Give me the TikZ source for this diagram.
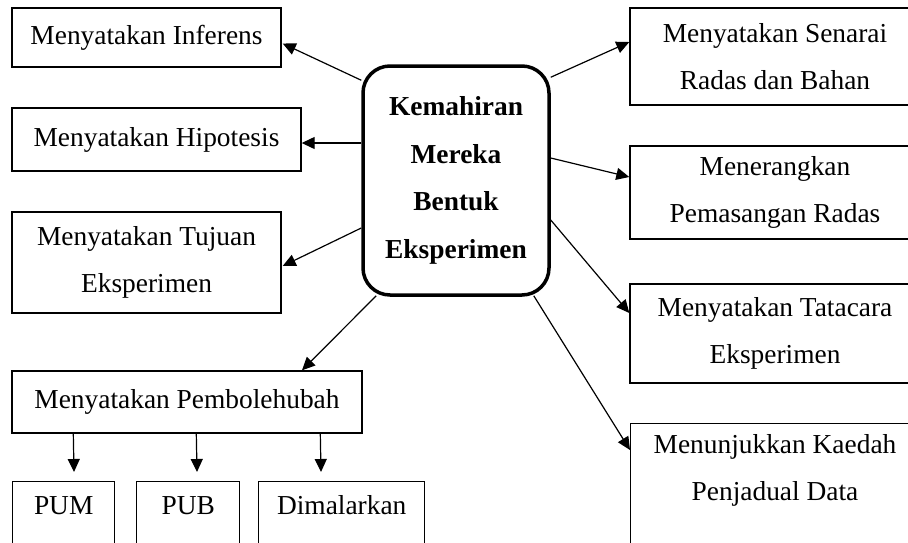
\documentclass[tikz,border=0pt]{standalone}
\usepackage{fontspec}
\setmainfont{Liberation Serif}
\usetikzlibrary{arrows.meta,calc}
\begin{document}
\begin{tikzpicture}[x=1pt,y=-1pt,
  box/.style={draw=black, line width=1.4pt, rectangle, inner sep=0pt, align=center, font=\fontsize{27.4}{47}\selectfont},
  hub/.style={draw=black, line width=3.5pt, rounded corners=27pt, align=center, font=\bfseries\fontsize{27.4}{47.7}\selectfont, minimum width=186pt, minimum height=229pt, inner sep=0pt},
  arr/.style={-{Triangle[length=13pt,width=12pt]}, line width=1.2pt},
  lbl/.style={align=center, inner sep=0pt, font=\fontsize{27.4}{47}\selectfont}]
\useasboundingbox (0,0) rectangle (908,542);
\clip (0,0) rectangle (908,542);
\node[hub] (c) at (456,180.5) {Kemahiran\\Mereka\\Bentuk\\Eksperimen};
% left
\node[box, minimum width=269pt, minimum height=59pt] (inf) at (146.5,37.5) {Menyatakan Inferens};
\node[box, minimum width=289pt, minimum height=63pt] (hip) at (156.5,139.5) {Menyatakan Hipotesis};
\node[box, minimum width=269pt, minimum height=101pt] (tuj) at (146.5,262.5) {Menyatakan Tujuan\\Eksperimen};
\node[box, minimum width=350pt, minimum height=62pt] (pem) at (187,402) {Menyatakan Pembolehubah};
% bottom
\node[box, anchor=north west, minimum width=102pt, text height=33pt, text depth=80pt] (pum) at (12,481) {PUM};
\node[box, anchor=north west, minimum width=103pt, text height=33pt, text depth=80pt] (pub) at (136,481) {PUB};
\node[box, anchor=north west, minimum width=166pt, text height=33pt, text depth=80pt] (dim) at (258,481) {Dimalarkan};
% right
\node[box, minimum width=290pt, minimum height=97pt] (sen) at (775,56.5) {Menyatakan Senarai\\Radas dan Bahan};
\node[box, minimum width=290pt, minimum height=93pt] (mene) at (775,192.5) {Menerangkan\\Pemasangan Radas};
\node[box, minimum width=290pt, minimum height=99pt] (tata) at (775,333.5) {Menyatakan Tatacara\\Eksperimen};
\node[box, anchor=north west, minimum width=290pt, minimum height=140pt] (kae) at (630,423) {};
\node[lbl] (kaeT) at (775,470) {Menunjukkan Kaedah\\Penjadual Data};
% arrows
\draw[arr] ($(c.north west)+(0,16)$) -- ($(inf.east)+(1,6)$);
\draw[arr] ($(c.west)+(0,-37.5)$) -- ($(hip.east)+(0,3.5)$);
\draw[arr] ($(c.west)+(0,47.5)$) -- ($(tuj.east)+(1,3.5)$);
\draw[arr] ($(c.south west)+(15,-1)$) -- ($(pem.north)+(115,0)$);
\draw[arr] ($(c.north east)+(0,13)$) -- ($(sen.west)+(0,-14.5)$);
\draw[arr] ($(c.east)+(0,-22.5)$) -- ($(mene.west)+(0,-15.5)$);
\draw[arr] ($(c.east)+(0,39.5)$) -- ($(tata.west)+(0,-20.5)$);
\draw[arr] ($(c.south east)+(-17,-1)$) -- ($(kae.north west)+(0,27)$);
\draw[arr] ($(pem.south west)+(62,0)$) -- ($(pum.north west)+(62,-9)$);
\draw[arr] ($(pem.south west)+(185,0)$) -- ($(pub.north west)+(61,-9)$);
\draw[arr] ($(pem.south west)+(309,0)$) -- ($(dim.north west)+(63,-9)$);
\end{tikzpicture}
\end{document}
